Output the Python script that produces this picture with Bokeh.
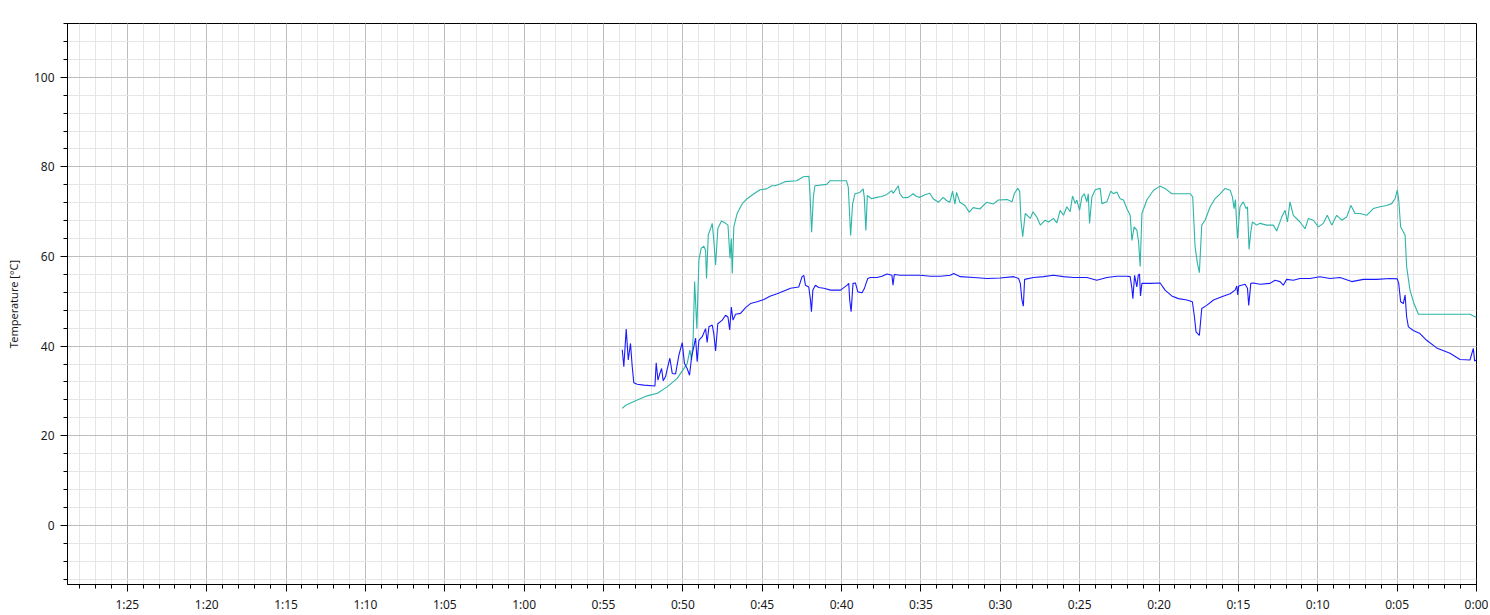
from bokeh.plotting import figure
from bokeh.models import Range1d, SingleIntervalTicker
from bokeh.embed import file_html
from bokeh.resources import INLINE

# minutes before now (x) and temperature in °C (y)
t_cyan = [53.82, 53.6, 52.98, 52.25, 51.6, 50.99, 50.36, 49.73, 49.56, 49.45, 49.35, 49.26, 49.12,
          48.99, 48.85, 48.68, 48.57, 48.51, 48.40, 48.26, 48.15, 48.05, 47.94, 47.80, 47.57, 47.31,
          47.16, 47.03, 46.95, 46.89, 46.79, 46.58, 46.26, 45.95, 45.52, 45.14, 44.72, 44.41, 44.20,
          43.88, 43.57, 42.83, 42.41, 42.06, 41.99, 41.89, 41.78, 41.68, 40.94, 40.73, 39.69, 39.58,
          39.43, 39.31, 39.16, 38.85, 38.64, 38.57, 38.47, 38.38, 38.11, 37.80, 37.48, 37.17, 36.85,
          36.75, 36.43, 36.33, 36.12, 35.80, 35.49, 35.28, 35.07, 34.75, 34.44, 34.23, 33.91, 33.60,
          33.39, 33.18, 33.01, 32.86, 32.76, 32.55, 32.23, 31.96, 31.71, 31.29, 30.87, 30.45, 30.13,
          29.57, 29.26, 29.12,
          28.91, 28.78, 28.70, 28.59, 28.43, 28.11, 27.94, 27.70, 27.48, 27.17, 26.96, 26.65, 26.44,
          26.23, 26.02, 25.81, 25.60, 25.45, 25.28, 25.18, 25.01, 24.86, 24.71, 24.55, 24.46, 24.38,
          24.23, 24.02, 23.71, 23.60, 23.29, 23.04, 22.87, 22.66, 22.45, 22.24, 22.03, 21.82, 21.71,
          21.57, 21.40, 21.29, 21.19, 21.08, 20.77, 20.35, 19.93, 19.62, 19.20, 18.04, 17.88, 17.73,
          17.58, 17.46, 17.31, 17.10, 16.78, 16.47, 16.15, 15.84, 15.52, 15.38, 15.27, 15.19, 15.06,
          14.90, 14.69, 14.52, 14.43, 14.33, 14.22, 14.12, 13.85, 13.64, 13.22, 12.80, 12.59, 12.27,
          12.06, 11.91, 11.75, 11.54, 11.12, 10.80, 10.59, 10.28, 9.96, 9.65, 9.40, 9.12, 8.81, 8.49,
          8.18, 7.91, 7.65, 7.34, 6.92, 6.50, 6.08, 5.66, 5.34, 5.13, 4.99, 4.90, 4.78, 4.61, 4.50,
          4.40, 4.19, 3.94, 3.66, 2.09, 0.41, 0.0]
temp_cyan = [26.1, 26.8, 27.8, 28.9, 29.5, 30.9, 32.8, 36.1, 39.1, 36.9, 42.1, 54.4, 43.9,
             59.2, 61.8, 62.3, 61.4, 55.1, 64.8, 66.2, 67.4, 63.6, 58.1, 66.2, 67.9, 67.4,
             67.0, 59.6, 64.0, 56.2, 66.6, 69.6, 71.8, 72.9, 74.0, 74.9, 75.1, 75.8, 75.8,
             76.2, 76.7, 76.9, 77.8, 77.9, 74.0, 65.4, 73.2, 75.8, 76.1, 76.9, 76.9, 75.5,
             64.7, 71.7, 74.0, 74.3, 75.1, 73.2, 65.8, 73.6, 72.9, 73.2, 73.4, 73.8, 74.7,
             74.1, 75.8, 74.0, 73.1, 73.2, 74.0, 73.4, 73.2, 73.8, 74.1, 72.9, 72.1, 73.2,
             72.5, 72.1, 74.6, 71.7, 74.3, 72.1, 71.4, 69.9, 70.9, 70.6, 72.1, 71.7, 72.6,
             72.7, 72.2, 74.0,
             75.2, 74.6, 68.1, 64.4, 69.6, 68.5, 70.0, 68.8, 67.0, 68.1, 67.7, 68.5, 67.5,
             70.3, 69.2, 71.1, 70.0, 73.5, 71.8, 72.6, 70.3, 73.3, 74.0, 72.2, 74.0, 67.4,
             73.3, 74.9, 75.2, 71.8, 72.2, 74.6, 74.0, 74.4, 72.9, 72.6, 70.7, 69.2, 63.6,
             66.6, 65.9, 63.3, 57.8, 69.6, 72.6, 74.8, 75.7, 75.2, 74.0, 74.0, 73.3, 62.2,
             58.4, 56.4, 67.0, 68.1, 71.1, 72.9, 74.0, 75.2, 74.8, 73.3, 70.7, 72.7, 64.0,
             71.1, 72.2, 70.7, 71.1, 61.6, 65.5, 67.7, 67.0, 67.4, 67.0, 67.0, 65.7, 68.8,
             70.3, 67.7, 72.2, 69.2, 67.7, 66.2, 68.5, 68.1, 66.6, 67.4, 69.2, 67.0, 69.2, 68.1,
             68.8, 71.4, 69.6, 69.6, 69.2, 70.7, 71.1, 71.4, 71.8, 72.9, 74.8, 72.6, 66.6, 65.5, 64.8,
             57.7, 52.5, 49.5, 47.1, 47.1, 47.1, 46.4]

t_blue = [53.82, 53.72, 53.57, 53.44, 53.30, 53.19, 53.09, 52.88, 52.46, 51.76, 51.68, 51.57, 51.45,
          51.34, 51.24, 51.09, 50.99, 50.82, 50.67, 50.46, 50.25, 50.04, 49.90, 49.73, 49.58, 49.45,
          49.31, 49.20, 49.10, 48.99, 48.78, 48.57, 48.47, 48.36, 48.15, 48.05, 47.94, 47.80, 47.52,
          47.31, 47.16, 47.05, 46.95, 46.84, 46.68, 46.37, 46.05, 45.74, 45.32, 44.90, 44.48, 44.06,
          43.64, 43.22, 42.70, 42.49, 42.38, 42.28, 42.07, 41.96, 41.90, 41.81, 41.65, 41.44, 41.12,
          40.70, 40.07, 39.65, 39.55, 39.49, 39.40, 39.28, 39.13, 38.98, 38.71, 38.56, 38.46, 38.35,
          38.19, 37.77, 37.46, 37.14, 36.83, 36.76, 36.68, 36.30, 35.67, 35.04, 34.41, 33.78, 33.15,
          32.94, 32.52, 31.68, 30.84, 30.00, 29.16, 28.85, 28.74, 28.64, 28.55, 28.47, 27.91, 27.28,
          26.65, 26.02, 25.39, 24.55, 23.92, 23.29, 22.66, 22.03, 21.82, 21.71, 21.65, 21.54, 21.40,
          21.31, 21.23, 21.17, 21.08, 20.56, 19.93, 19.62, 19.20, 18.78, 18.25, 17.90, 17.77, 17.67,
          17.46, 17.31, 17.00, 16.57, 16.05, 15.52, 15.21, 15.10, 15.04, 14.98, 14.58, 14.43, 14.35,
          14.22, 14.06, 13.64, 13.01, 12.69, 12.38, 12.17, 11.96, 11.54, 11.12, 10.49, 9.86, 9.23,
          8.60, 7.86, 7.13, 6.29, 5.45, 4.99, 4.90, 4.78, 4.61, 4.50, 4.40, 4.29, 3.98, 3.56, 3.14,
          2.51, 1.67, 1.04, 0.41, 0.20, 0.12, 0.0]
temp_blue = [39.2, 35.4, 43.8, 36.9, 40.6, 35.4, 31.8, 31.5, 31.3, 31.1, 36.3, 32.4, 33.9,
             35.0, 32.3, 33.2, 34.8, 37.3, 33.9, 33.8, 38.0, 40.8, 36.1, 35.0, 33.5, 37.6,
             39.9, 41.8, 36.5, 41.3, 42.1, 43.9, 40.8, 44.3, 44.7, 42.8, 38.9, 45.0, 45.8,
             46.9, 46.5, 43.6, 48.7, 45.8, 47.1, 47.3, 48.6, 49.5, 49.9, 50.4, 51.2, 51.7,
             52.3, 52.9, 53.2, 55.5, 55.8, 53.6, 53.2, 50.3, 47.7, 52.5, 53.6, 53.1, 52.9,
             52.5, 52.5, 53.6, 54.0, 50.3, 47.7, 54.0, 54.1, 52.1, 51.9, 52.9, 54.0, 55.1,
             55.3, 55.3, 55.6, 56.1, 55.8, 53.6, 56.0, 55.8, 55.8, 55.8, 55.6, 55.6, 55.8,
             56.2, 55.5, 55.3, 55.1, 55.2, 55.5, 55.1, 54.0, 50.3, 48.9, 54.9, 55.3, 55.5,
             55.8, 55.5, 55.3, 55.3, 54.7, 55.3, 55.6, 55.6, 55.5, 52.9, 50.6, 55.8, 53.2,
             55.8, 56.1, 51.2, 54.0, 54.0, 54.1, 52.5, 51.2, 50.6, 50.3, 49.9, 46.5, 43.2,
             42.4, 48.4, 49.1, 50.3, 51.0, 51.7, 52.5, 53.4, 51.4, 53.4, 53.8, 52.9, 49.1,
             54.0, 54.1, 53.8, 54.0, 54.7, 54.4, 53.6, 54.9, 54.7, 55.1, 55.1, 55.5, 55.1,
             55.3, 54.4, 54.9, 54.9, 55.1, 55.0, 54.0, 49.9, 49.5, 51.4, 46.5, 44.3, 43.5, 42.8, 41.3,
             39.6, 38.4, 37.0, 36.9, 39.5, 36.7, 36.9]

x_ticks = list(range(0, 90, 5))
x_tick_labels = [f"{m // 60}:{m % 60:02d}" for m in x_ticks]

FONT = "Noto Sans"

p = figure(frame_width=1409, frame_height=561,
           x_range=Range1d(88.77, 0), y_range=Range1d(-13.2, 112),
           output_backend="svg", toolbar_location=None,
           min_border_left=67, min_border_top=23, min_border_right=12, min_border_bottom=28)

p.line(t_cyan, temp_cyan, line_color="#2db5a8", line_width=1.1)
p.line(t_blue, temp_blue, line_color="#1a1aff", line_width=1.1)

p.xaxis.ticker = SingleIntervalTicker(interval=5, num_minor_ticks=5)
p.yaxis.ticker = SingleIntervalTicker(interval=20, num_minor_ticks=5)
p.xaxis.major_label_overrides = {m: lab for m, lab in zip(x_ticks, x_tick_labels)}

for ax in (p.xaxis, p.yaxis):
    ax.axis_line_color = "black"
    ax.major_tick_line_color = "black"
    ax.minor_tick_line_color = "black"
    ax.major_tick_out = 7
    ax.major_tick_in = 0
    ax.minor_tick_out = 4
    ax.minor_tick_in = 0
    ax.major_label_text_font = FONT
    ax.major_label_text_font_size = "12px"
    ax.major_label_text_color = "#1a1a1a"

p.xaxis.major_label_standoff = 4
p.yaxis.major_label_standoff = 6
p.yaxis.axis_label = "Temperature [°C]"
p.yaxis.axis_label_text_font = FONT
p.yaxis.axis_label_text_font_size = "11px"
p.yaxis.axis_label_text_font_style = "normal"
p.yaxis.axis_label_text_color = "#1a1a1a"
p.yaxis.axis_label_standoff = 10

for g in (p.xgrid, p.ygrid):
    g.grid_line_color = "#bdbdbd"
    g.grid_line_width = 1
    g.minor_grid_line_color = "#e6e6e6"
    g.minor_grid_line_width = 1

p.outline_line_color = "black"
p.outline_line_alpha = 1
p.outline_line_width = 1
p.background_fill_color = "white"
p.border_fill_color = "white"

open("out.html", "w").write(file_html(p, INLINE))
